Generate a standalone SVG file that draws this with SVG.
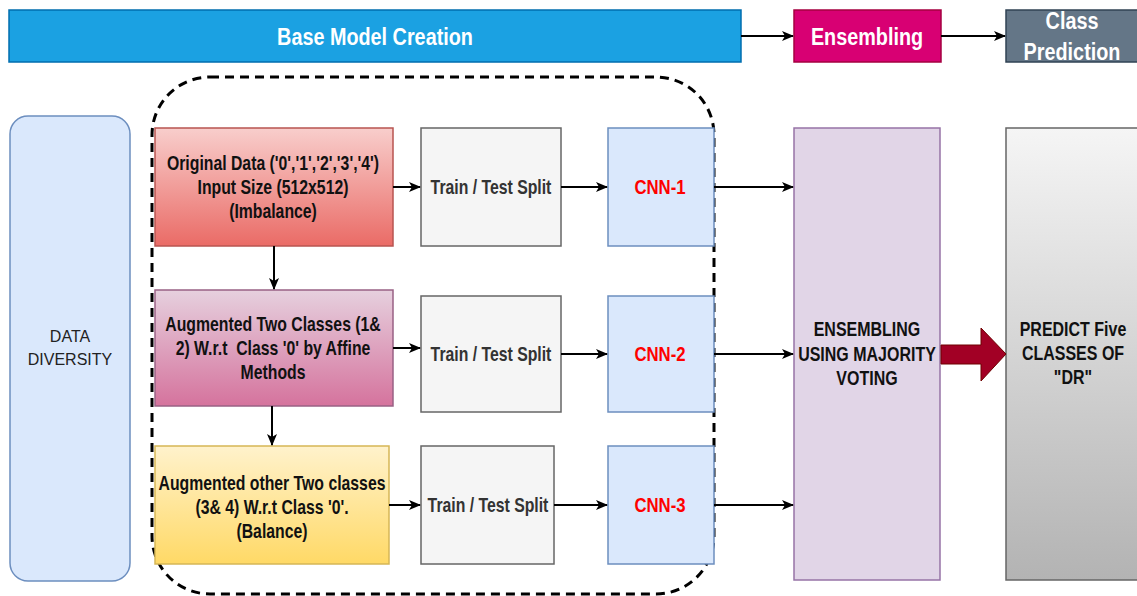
<svg xmlns="http://www.w3.org/2000/svg" width="1137" height="596" viewBox="0 0 1137 596">
  <defs>
    <linearGradient id="gRed" x1="0" y1="0" x2="0" y2="1">
      <stop offset="0" stop-color="#f8cecc"/>
      <stop offset="1" stop-color="#ea6b66"/>
    </linearGradient>
    <linearGradient id="gPink" x1="0" y1="0" x2="0" y2="1">
      <stop offset="0" stop-color="#e6d0de"/>
      <stop offset="1" stop-color="#d5739d"/>
    </linearGradient>
    <linearGradient id="gYellow" x1="0" y1="0" x2="0" y2="1">
      <stop offset="0" stop-color="#fff2cc"/>
      <stop offset="1" stop-color="#ffd966"/>
    </linearGradient>
    <linearGradient id="gGray" x1="0" y1="0" x2="0" y2="1">
      <stop offset="0" stop-color="#f5f5f5"/>
      <stop offset="1" stop-color="#b3b3b3"/>
    </linearGradient>
    <marker id="arrow" viewBox="0 0 12 10" refX="11" refY="5" markerWidth="12" markerHeight="10" markerUnits="userSpaceOnUse" orient="auto">
      <path d="M0,0 L12,5 L0,10 L3,5 Z" fill="#000"/>
    </marker>
  </defs>
  <style>
    .hdr { font-family: "Liberation Sans", Arial, sans-serif; font-weight: bold; font-size: 24px; fill: #fff; text-anchor: middle; }
    .lbl { font-family: "Liberation Sans", Arial, sans-serif; font-weight: bold; font-size: 19.5px; fill: #111; text-anchor: middle; }
    .split { font-family: "Liberation Sans", Arial, sans-serif; font-weight: bold; font-size: 19.5px; fill: #333; text-anchor: middle; }
    .cnn { font-family: "Liberation Sans", Arial, sans-serif; font-weight: bold; font-size: 19.5px; fill: #ff0000; text-anchor: middle; }
    .plain { font-family: "Liberation Sans", Arial, sans-serif; font-size: 16px; fill: #222; text-anchor: middle; }
    .wire { stroke: #000; stroke-width: 2; fill: none; marker-end: url(#arrow); }
  </style>

  <rect width="1137" height="596" fill="#fff"/>

  <!-- stage headers (labels set in a condensed face via horizontal scaling) -->
  <g id="hdr-base">
    <rect x="9" y="10" width="732" height="52" fill="#1ba1e2" stroke="#006eaf" stroke-width="1.5"/>
    <g transform="translate(375 0) scale(0.825 1)"><text class="hdr" x="0" y="45">Base Model Creation</text></g>
  </g>
  <g id="hdr-ensembling">
    <rect x="794" y="10" width="147" height="52" fill="#d80073" stroke="#a50040" stroke-width="1.5"/>
    <g transform="translate(867 0) scale(0.825 1)"><text class="hdr" x="0" y="45">Ensembling</text></g>
  </g>
  <g id="hdr-prediction">
    <rect x="1006" y="10" width="140" height="52" fill="#647687" stroke="#314354" stroke-width="1.5"/>
    <g transform="translate(1072 0) scale(0.825 1)">
      <text class="hdr" x="0" y="29">Class</text>
      <text class="hdr" x="0" y="60">Prediction</text>
    </g>
  </g>

  <!-- dashed grouping around the base models -->
  <g id="base-group">
    <rect x="152" y="77" width="562" height="517" rx="58" ry="58" fill="none" stroke="#000" stroke-width="3" stroke-dasharray="9 6"/>
  </g>

  <g id="data-diversity">
    <rect x="10" y="116" width="120" height="465" rx="18" ry="18" fill="#dae8fc" stroke="#6c8ebf" stroke-width="1.5"/>
    <text class="plain" x="70" y="342">DATA</text>
    <text class="plain" x="70" y="365">DIVERSITY</text>
  </g>

  <g id="original-data">
    <rect x="155" y="128" width="238" height="118" fill="url(#gRed)" stroke="#b85450" stroke-width="1.5"/>
    <g transform="translate(273 0) scale(0.81 1)">
      <text class="lbl" x="0" y="170">Original Data ('0','1','2','3','4')</text>
      <text class="lbl" x="0" y="194">Input Size (512x512)</text>
      <text class="lbl" x="0" y="218">(Imbalance)</text>
    </g>
  </g>
  <g id="aug-12">
    <rect x="155" y="290" width="238" height="116" fill="url(#gPink)" stroke="#996185" stroke-width="1.5"/>
    <g transform="translate(273 0) scale(0.81 1)">
      <text class="lbl" x="0" y="331">Augmented Two Classes (1&amp;</text>
      <text class="lbl" x="0" y="355" xml:space="preserve">2) W.r.t  Class '0' by Affine</text>
      <text class="lbl" x="0" y="379">Methods</text>
    </g>
  </g>
  <g id="aug-34">
    <rect x="155" y="446" width="234" height="118" fill="url(#gYellow)" stroke="#d6b656" stroke-width="1.5"/>
    <g transform="translate(272 0) scale(0.81 1)">
      <text class="lbl" x="0" y="490">Augmented other Two classes</text>
      <text class="lbl" x="0" y="514">(3&amp; 4) W.r.t Class '0'.</text>
      <text class="lbl" x="0" y="538">(Balance)</text>
    </g>
  </g>

  <g id="split-1">
    <rect x="421" y="128" width="140" height="118" fill="#f5f5f5" stroke="#666" stroke-width="1.5"/>
    <g transform="translate(491 0) scale(0.81 1)"><text class="split" x="0" y="194">Train / Test Split</text></g>
  </g>
  <g id="split-2">
    <rect x="421" y="296" width="140" height="116" fill="#f5f5f5" stroke="#666" stroke-width="1.5"/>
    <g transform="translate(491 0) scale(0.81 1)"><text class="split" x="0" y="361">Train / Test Split</text></g>
  </g>
  <g id="split-3">
    <rect x="421" y="446" width="133" height="118" fill="#f5f5f5" stroke="#666" stroke-width="1.5"/>
    <g transform="translate(488 0) scale(0.81 1)"><text class="split" x="0" y="512">Train / Test Split</text></g>
  </g>

  <g id="cnn-1">
    <rect x="608" y="128" width="106" height="118" fill="#dae8fc" stroke="#6c8ebf" stroke-width="1.5"/>
    <g transform="translate(660 0) scale(0.86 1)"><text class="cnn" x="0" y="194">CNN-1</text></g>
  </g>
  <g id="cnn-2">
    <rect x="608" y="296" width="106" height="116" fill="#dae8fc" stroke="#6c8ebf" stroke-width="1.5"/>
    <g transform="translate(660 0) scale(0.86 1)"><text class="cnn" x="0" y="361">CNN-2</text></g>
  </g>
  <g id="cnn-3">
    <rect x="608" y="446" width="106" height="118" fill="#dae8fc" stroke="#6c8ebf" stroke-width="1.5"/>
    <g transform="translate(660 0) scale(0.86 1)"><text class="cnn" x="0" y="512">CNN-3</text></g>
  </g>

  <g id="majority-voting">
    <rect x="794" y="128" width="146" height="452" fill="#e1d5e7" stroke="#9673a6" stroke-width="1.5"/>
    <g transform="translate(867 0) scale(0.82 1)">
      <text class="lbl" x="0" y="336">ENSEMBLING</text>
      <text class="lbl" x="0" y="361">USING MAJORITY</text>
      <text class="lbl" x="0" y="385">VOTING</text>
    </g>
  </g>

  <g id="predict">
    <rect x="1006" y="128" width="140" height="452" fill="url(#gGray)" stroke="#666" stroke-width="1.5"/>
    <g transform="translate(1073 0) scale(0.82 1)">
      <text class="lbl" x="0" y="336">PREDICT Five</text>
      <text class="lbl" x="0" y="360">CLASSES OF</text>
      <text class="lbl" x="0" y="384">"DR"</text>
    </g>
  </g>

  <!-- connectors -->
  <g id="connectors">
    <path class="wire" d="M741,36 H793"/>
    <path class="wire" d="M941,36 H1005"/>

    <path class="wire" d="M393,187 H420"/>
    <path class="wire" d="M561,187 H607"/>
    <path class="wire" d="M714,187 H793"/>

    <path class="wire" d="M393,348 H420"/>
    <path class="wire" d="M561,354 H607"/>
    <path class="wire" d="M714,354 H793"/>

    <path class="wire" d="M389,505 H420"/>
    <path class="wire" d="M554,505 H607"/>
    <path class="wire" d="M714,505 H793"/>

    <path class="wire" d="M274,246 V289"/>
    <path class="wire" d="M272,406 V445"/>

    <path d="M941,345 H981 V328 L1006,354 L981,381 V364 H941 Z" fill="#a20025" stroke="#6f0000" stroke-width="1"/>
  </g>
</svg>
